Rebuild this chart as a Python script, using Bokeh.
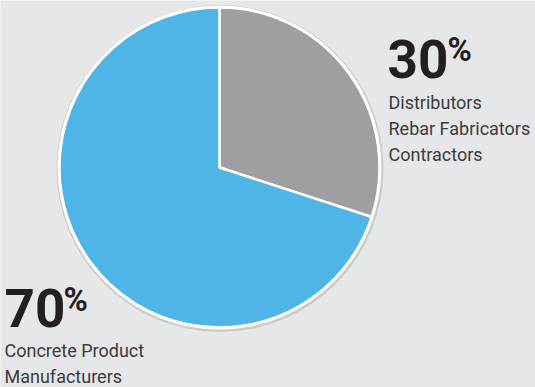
from bokeh.plotting import figure
from bokeh.models import Range1d, ColumnDataSource
from bokeh.core.properties import value
from bokeh.embed import file_html
from bokeh.resources import INLINE
import math

# ---- data ----
categories = ["Distributors / Rebar Fabricators / Contractors", "Concrete Product Manufacturers"]
shares = [30, 70]
colors = ["#9d9fa2", "#4fb5e6"]
pct_labels = ["30", "70"]
desc_labels = [["Distributors", "Rebar Fabricators", "Contractors"],
               ["Concrete Product", "Manufacturers"]]

W, H = 535, 387
BG = "#e6e7e8"
p = figure(width=W, height=H, output_backend="svg", toolbar_location=None,
           x_range=Range1d(0, W), y_range=Range1d(0, H), min_border=0)
p.axis.visible = False
p.grid.visible = False
p.outline_line_color = None
p.background_fill_color = BG
p.border_fill_color = BG

cx, cy, r = 219, H - 167, 160

# wedge angles (clockwise from top)
total = sum(shares)
starts, ends = [], []
a = math.pi / 2
for s in shares:
    starts.append(a)
    a = a - 2 * math.pi * s / total
    ends.append(a)
src = ColumnDataSource(dict(start=starts, end=ends, color=colors, cat=categories))

# soft shadow ring
p.circle(x=[cx + 0.5], y=[cy - 1], radius=r + 3.5, fill_color="#c9cacc", line_color=None)
p.circle(x=[cx], y=[cy], radius=r + 2, fill_color="white", line_color=None)
p.wedge(x=cx, y=cy, radius=r, start_angle="start", end_angle="end", direction="clock",
        fill_color="color", line_color="white", line_width=2.5, source=src)

bold_font = value("Roboto")
body_font = value("Roboto")
dark = "#231f20"
body = "#3b3b3d"

def txt(x, ypix, t, size, bold=False, color=body):
    p.text(x=[x], y=[H - ypix], text=[t], text_font=bold_font if bold else body_font,
           text_font_style="bold" if bold else "normal",
           text_font_size=size, text_color=color, text_baseline="alphabetic", text_align="left")

# 30% label
txt(387, 58, pct_labels[0], "53px", True, dark)
txt(447, 48.5, "%", "33px", True, dark)
for i, t in enumerate(desc_labels[0]):
    txt(388, 102 + 26 * i, t, "18px")

# 70% label
txt(4, 307, pct_labels[1], "53px", True, dark)
txt(63, 298.5, "%", "33px", True, dark)
for i, t in enumerate(desc_labels[1]):
    txt(4, 350 + 26 * i, t, "18px")

open("out.html", "w").write(file_html(p, INLINE))
